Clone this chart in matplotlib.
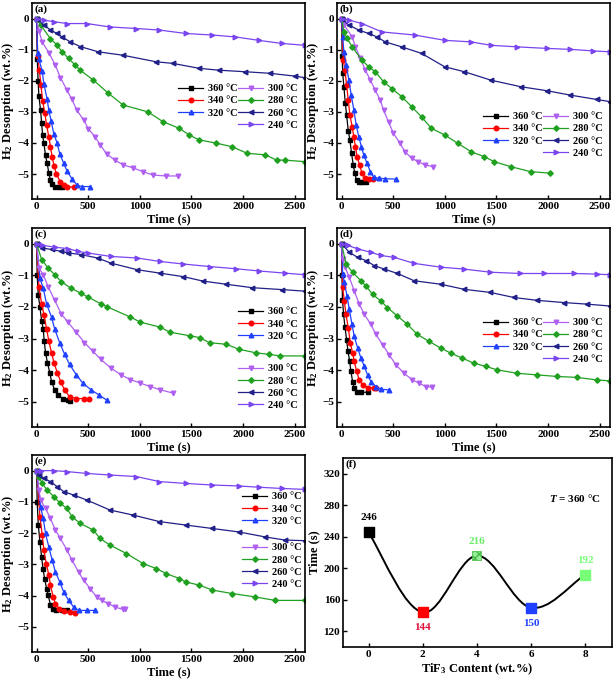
import matplotlib
matplotlib.use("Agg")
import matplotlib.pyplot as plt
from matplotlib.path import Path
from matplotlib.patches import PathPatch

plt.rcParams['font.family'] = ['Liberation Serif', 'DejaVu Serif']
plt.rcParams['font.weight'] = 'bold'
plt.rcParams['mathtext.fontset'] = 'custom'
plt.rcParams['mathtext.rm'] = 'Liberation Serif:bold'
plt.rcParams['mathtext.bf'] = 'Liberation Serif:bold'
plt.rcParams['mathtext.it'] = 'Liberation Serif:bold:italic'

# temperatures, colours and markers of the series
temps = ['360 °C', '340 °C', '320 °C', '300 °C', '280 °C', '260 °C', '240 °C']
colors = ['#000000', '#ff0000', '#2040ff', '#b060f0', '#20a020', '#202088', '#7a45f0']
markers = ['s', 'o', '^', 'v', 'D', '<', '>']

# ---- panel (a) ----
a360_t = [0, 6, 14, 22, 38, 48, 58, 70, 86, 102, 118, 134, 150, 180, 215, 250]
a360_v = [0, -1.3, -2.0, -2.5, -2.95, -3.35, -3.75, -4.0, -4.4, -4.65, -4.97, -5.2, -5.33, -5.4, -5.42, -5.42]
a340_t = [0, 10, 26, 42, 58, 80, 96, 118, 134, 150, 170, 192, 230, 262, 294, 358]
a340_v = [0, -1.2, -1.65, -2.15, -2.65, -3.05, -3.42, -3.8, -4.12, -4.45, -4.75, -5.0, -5.25, -5.35, -5.4, -5.42]
a320_t = [0, 10, 22, 54, 70, 102, 118, 141, 166, 198, 224, 262, 294, 342, 390, 438, 518]
a320_v = [0, -1.1, -1.3, -1.7, -2.1, -2.6, -2.95, -3.3, -3.7, -4.0, -4.35, -4.65, -4.9, -5.15, -5.35, -5.4, -5.4]
a300_t = [0, 22, 54, 118, 182, 230, 294, 342, 390, 454, 502, 566, 614, 678, 758, 838, 934, 1030, 1126, 1254, 1366]
a300_v = [0, -0.4, -0.75, -1.1, -1.5, -1.9, -2.3, -2.6, -2.95, -3.25, -3.55, -3.8, -4.05, -4.35, -4.55, -4.7, -4.8, -4.92, -5.03, -5.06, -5.06]
a280_t = [0, 38, 134, 198, 246, 310, 374, 422, 550, 694, 838, 1078, 1222, 1382, 1478, 1574, 1734, 1894, 2038, 2214, 2326, 2406, 2600]
a280_v = [0, -0.2, -0.65, -0.85, -1.07, -1.28, -1.5, -1.66, -1.98, -2.4, -2.78, -3.0, -3.31, -3.53, -3.74, -3.9, -4.0, -4.12, -4.33, -4.38, -4.55, -4.55, -4.6]
a260_t = [0, 70, 134, 198, 246, 326, 422, 598, 838, 1158, 1318, 1574, 1766, 2022, 2262, 2502, 2600]
a260_v = [0, -0.2, -0.37, -0.48, -0.59, -0.75, -0.9, -1.07, -1.18, -1.39, -1.44, -1.6, -1.66, -1.71, -1.76, -1.85, -1.9]
a240_t = [0, 70, 166, 294, 486, 710, 966, 1190, 1446, 1702, 1926, 2150, 2374, 2600]
a240_v = [0, -0.05, -0.1, -0.16, -0.16, -0.27, -0.32, -0.37, -0.48, -0.53, -0.59, -0.7, -0.8, -0.86]

# ---- panel (b) ----
b360_t = [0, 5, 10, 22, 35, 48, 64, 80, 96, 112, 128, 144, 170, 200, 240]
b360_v = [0, -1.2, -1.75, -2.2, -2.7, -3.1, -3.6, -3.9, -4.33, -4.7, -4.97, -5.2, -5.25, -5.25, -5.25]
b340_t = [0, 16, 32, 48, 64, 80, 102, 118, 134, 150, 173, 198, 230, 262, 300]
b340_v = [0, -1.34, -1.66, -2.14, -2.62, -3.1, -3.48, -3.8, -4.12, -4.44, -4.7, -4.97, -5.13, -5.17, -5.17]
b320_t = [0, 10, 22, 45, 70, 93, 118, 141, 166, 192, 214, 246, 278, 310, 358, 422, 530]
b320_v = [0, -0.6, -1.07, -1.5, -1.98, -2.46, -2.94, -3.42, -3.8, -4.12, -4.39, -4.65, -4.92, -5.1, -5.13, -5.15, -5.16]
b300_t = [0, 22, 102, 134, 182, 230, 278, 326, 374, 406, 454, 502, 566, 614, 678, 742, 806, 886]
b300_v = [0, -0.2, -0.59, -0.91, -1.28, -1.66, -1.98, -2.3, -2.62, -2.94, -3.32, -3.69, -4.01, -4.28, -4.49, -4.6, -4.7, -4.76]
b280_t = [0, 22, 54, 102, 198, 262, 326, 406, 486, 582, 678, 774, 870, 998, 1126, 1254, 1382, 1478, 1638, 1830, 2022]
b280_v = [0, -0.43, -0.64, -0.91, -1.34, -1.55, -1.71, -2.03, -2.25, -2.51, -2.83, -3.16, -3.53, -3.74, -4.01, -4.28, -4.44, -4.6, -4.76, -4.92, -4.97]
b260_t = [0, 70, 166, 262, 342, 422, 582, 774, 998, 1190, 1446, 1734, 1990, 2214, 2470, 2600]
b260_v = [0, -0.21, -0.37, -0.48, -0.59, -0.75, -0.91, -1.12, -1.55, -1.71, -1.98, -2.19, -2.32, -2.46, -2.6, -2.67]
b240_t = [0, 70, 198, 390, 710, 998, 1254, 1446, 1702, 1990, 2214, 2438, 2600]
b240_v = [0, -0.05, -0.16, -0.43, -0.53, -0.7, -0.75, -0.86, -0.91, -0.96, -0.99, -1.04, -1.07]

# ---- panel (c) ----
c360_t = [0, 5, 16, 32, 48, 64, 73, 86, 105, 128, 144, 175, 207, 255, 303, 319]
c360_v = [0, -1.0, -1.63, -2.0, -2.43, -2.7, -3.07, -3.45, -3.77, -4.09, -4.36, -4.63, -4.79, -4.9, -4.95, -4.97]
c340_t = [0, 22, 48, 73, 96, 118, 144, 169, 201, 233, 271, 319, 383, 463, 510]
c340_v = [0, -1.36, -1.9, -2.27, -2.7, -3.07, -3.45, -3.77, -4.09, -4.36, -4.63, -4.84, -4.9, -4.9, -4.9]
c320_t = [0, 32, 64, 96, 144, 175, 223, 271, 319, 383, 447, 526, 606, 680]
c320_v = [0, -1.09, -1.41, -1.9, -2.32, -2.7, -3.13, -3.5, -3.82, -4.14, -4.41, -4.62, -4.79, -4.95]
c300_t = [0, 22, 64, 112, 175, 239, 303, 383, 463, 542, 622, 718, 813, 909, 1005, 1101, 1196, 1324]
c300_v = [0, -0.77, -0.98, -1.36, -1.79, -2.22, -2.48, -2.8, -3.13, -3.39, -3.66, -3.93, -4.14, -4.3, -4.41, -4.52, -4.62, -4.73]
c280_t = [0, 48, 112, 175, 239, 335, 431, 494, 622, 686, 909, 1005, 1196, 1292, 1483, 1579, 1675, 1834, 1962, 2121, 2249, 2361, 2600]
c280_v = [0, -0.5, -0.77, -0.98, -1.2, -1.41, -1.57, -1.68, -1.9, -2.0, -2.32, -2.48, -2.64, -2.8, -2.91, -2.97, -3.13, -3.18, -3.34, -3.45, -3.5, -3.55, -3.55]
c260_t = [0, 48, 144, 239, 303, 431, 590, 718, 973, 1196, 1420, 1611, 1834, 2090, 2377, 2600]
c260_v = [0, -0.13, -0.18, -0.24, -0.29, -0.34, -0.45, -0.61, -0.82, -0.93, -1.04, -1.18, -1.28, -1.39, -1.45, -1.5]
c240_t = [0, 48, 175, 303, 399, 494, 718, 973, 1196, 1420, 1675, 1930, 2153, 2409, 2600]
c240_v = [0, -0.04, -0.11, -0.15, -0.24, -0.29, -0.4, -0.45, -0.56, -0.64, -0.72, -0.79, -0.86, -0.93, -0.98]

# ---- panel (d) ----
d360_t = [0, 3, 8, 19, 32, 48, 61, 77, 90, 106, 122, 148, 187, 251]
d360_v = [0, -1.0, -1.78, -2.23, -2.64, -3.03, -3.4, -3.7, -4.04, -4.36, -4.57, -4.68, -4.7, -4.7]
d340_t = [0, 10, 26, 42, 64, 84, 106, 122, 145, 171, 203, 251, 316, 332]
d340_v = [0, -1.38, -1.81, -2.23, -2.66, -3.14, -3.46, -3.72, -4.04, -4.31, -4.47, -4.55, -4.57, -4.57]
d320_t = [0, 10, 26, 52, 74, 100, 122, 155, 187, 219, 251, 283, 332, 380, 460]
d320_v = [0, -0.96, -1.22, -1.65, -2.07, -2.55, -2.93, -3.3, -3.62, -3.88, -4.15, -4.36, -4.52, -4.6, -4.63]
d300_t = [0, 10, 32, 74, 122, 171, 219, 283, 332, 396, 460, 525, 605, 686, 750, 815, 879]
d300_v = [0, -0.48, -0.74, -1.06, -1.49, -1.91, -2.23, -2.55, -2.87, -3.19, -3.51, -3.83, -4.1, -4.31, -4.41, -4.52, -4.54]
d280_t = [0, 42, 106, 187, 235, 299, 380, 444, 541, 637, 734, 847, 960, 1056, 1169, 1281, 1394, 1507, 1700, 1893, 2086, 2280, 2473, 2600]
d280_v = [0, -0.64, -0.9, -1.17, -1.33, -1.6, -1.81, -2.02, -2.29, -2.55, -2.87, -3.09, -3.3, -3.46, -3.62, -3.78, -3.88, -3.99, -4.1, -4.15, -4.2, -4.23, -4.31, -4.34]
d260_t = [0, 74, 155, 235, 316, 412, 541, 702, 960, 1185, 1442, 1668, 1893, 2151, 2377, 2600]
d260_v = [0, -0.27, -0.43, -0.53, -0.69, -0.8, -0.94, -1.17, -1.28, -1.44, -1.54, -1.7, -1.79, -1.86, -1.91, -1.97]
d240_t = [0, 58, 155, 283, 380, 509, 702, 960, 1185, 1442, 1732, 1958, 2248, 2473, 2600]
d240_v = [0, -0.05, -0.16, -0.27, -0.37, -0.43, -0.62, -0.74, -0.8, -0.9, -0.94, -0.94, -0.94, -0.96, -0.98]

# ---- panel (e) ----
e360_t = [0, 5, 16, 32, 48, 61, 77, 96, 112, 134, 157, 192, 246, 294]
e360_v = [0, -1.0, -1.74, -2.28, -2.76, -3.13, -3.45, -3.77, -3.98, -4.3, -4.41, -4.47, -4.47, -4.47]
e340_t = [0, 32, 54, 70, 93, 118, 134, 160, 182, 214, 262, 326, 374]
e340_v = [0, -1.47, -2.06, -2.54, -2.97, -3.34, -3.66, -4.04, -4.25, -4.41, -4.49, -4.52, -4.55]
e320_t = [0, 38, 64, 86, 118, 150, 182, 224, 262, 310, 358, 406, 486, 566]
e320_v = [0, -1.15, -1.53, -2.01, -2.44, -2.86, -3.24, -3.56, -3.88, -4.15, -4.36, -4.47, -4.47, -4.47]
e300_t = [0, 22, 38, 86, 134, 182, 230, 294, 342, 406, 454, 518, 582, 630, 694, 758, 838, 854]
e300_v = [0, -0.62, -0.94, -1.21, -1.53, -1.9, -2.17, -2.54, -2.86, -3.24, -3.5, -3.77, -4.04, -4.15, -4.25, -4.36, -4.44, -4.44]
e280_t = [0, 22, 54, 102, 166, 230, 294, 342, 422, 550, 614, 710, 870, 1030, 1158, 1254, 1382, 1446, 1574, 1702, 1894, 2118, 2310, 2600]
e280_v = [0, -0.19, -0.41, -0.62, -0.83, -1.05, -1.21, -1.47, -1.69, -1.9, -2.17, -2.38, -2.65, -2.97, -3.13, -3.29, -3.45, -3.56, -3.66, -3.82, -3.93, -4.04, -4.15, -4.15]
e260_t = [0, 22, 70, 134, 198, 262, 358, 486, 710, 934, 1190, 1446, 1702, 1958, 2214, 2406, 2600]
e260_v = [0, -0.14, -0.25, -0.35, -0.51, -0.67, -0.78, -0.94, -1.26, -1.42, -1.63, -1.74, -1.85, -1.96, -2.12, -2.22, -2.24]
e240_t = [0, 38, 166, 294, 486, 710, 966, 1190, 1446, 1702, 1958, 2150, 2374, 2600]
e240_v = [0, 0.0, 0.0, -0.03, -0.09, -0.14, -0.19, -0.35, -0.41, -0.46, -0.49, -0.53, -0.57, -0.6]

# ---- panel (f) ----
tif3 = [0, 2, 4, 6, 8]
t_full = [246, 144, 216, 150, 192]
f_colors = ['#000000', '#ff0000', '#66dd66', '#2040ff', '#77ff77']
f_label_colors = ['#000000', '#e0103a', '#66ee66', '#2040ff', '#77ff77']
f_label_above = [True, False, True, False, True]

panels = [
    ('(a)', [(a360_t, a360_v), (a340_t, a340_v), (a320_t, a320_v), (a300_t, a300_v),
             (a280_t, a280_v), (a260_t, a260_v), (a240_t, a240_v)]),
    ('(b)', [(b360_t, b360_v), (b340_t, b340_v), (b320_t, b320_v), (b300_t, b300_v),
             (b280_t, b280_v), (b260_t, b260_v), (b240_t, b240_v)]),
    ('(c)', [(c360_t, c360_v), (c340_t, c340_v), (c320_t, c320_v), (c300_t, c300_v),
             (c280_t, c280_v), (c260_t, c260_v), (c240_t, c240_v)]),
    ('(d)', [(d360_t, d360_v), (d340_t, d340_v), (d320_t, d320_v), (d300_t, d300_v),
             (d280_t, d280_v), (d260_t, d260_v), (d240_t, d240_v)]),
    ('(e)', [(e360_t, e360_v), (e340_t, e340_v), (e320_t, e320_v), (e300_t, e300_v),
             (e280_t, e280_v), (e260_t, e260_v), (e240_t, e240_v)]),
]

W, H = 615, 683
def px_axes(fig, left, right, top, bottom):
    return fig.add_axes([left / W, 1 - bottom / H, (right - left) / W, (bottom - top) / H])

fig = plt.figure(figsize=(6.15, 6.83), dpi=100)

boxes = [(32, 305, 3, 199), (337, 610, 3, 199), (32, 305, 228, 427),
         (337, 610, 228, 427), (32, 305, 455, 652)]
# legend anchors: (x1, y1, x2, y2) in axes fraction
leg_pos = [(0.535, 0.587, 0.755, 0.587), (0.535, 0.444, 0.755, 0.444),
           (0.755, 0.603, 0.755, 0.316), (0.535, 0.548, 0.755, 0.548),
           (0.77, 0.812, 0.77, 0.553)]

for (name, series), box, lp in zip(panels, boxes, leg_pos):
    ax = px_axes(fig, *box)
    handles = []
    for (t, v), c, m, lab in zip(series, colors, markers, temps):
        ms = 2.8 if m == 'D' else 3.3
        h, = ax.plot(t, v, color=c, marker=m, markersize=ms, linewidth=0.9, label=lab)
        handles.append(h)
    ax.set_xlim(-45, 2600)
    ax.set_ylim(-5.8, 0.5)
    ax.set_xticks([0, 500, 1000, 1500, 2000, 2500])
    ax.set_yticks([-5, -4, -3, -2, -1, 0])
    ax.tick_params(direction='in', length=3, width=1, labelsize=8, pad=2)
    for s in ax.spines.values():
        s.set_linewidth(1.2)
    ax.set_xlabel('Time (s)', fontsize=9, fontweight='bold', labelpad=2)
    ax.set_ylabel('H$_2$ Desorption (wt.%)', fontsize=9, fontweight='bold', labelpad=1)
    ax.text(0.008, 0.995, name, transform=ax.transAxes, ha='left', va='top',
            fontsize=8, fontweight='bold')
    kw = dict(frameon=False, fontsize=7.5, handlelength=2.4, handletextpad=0.5,
              labelspacing=0.28, borderpad=0, borderaxespad=0, loc='upper left')
    l1 = ax.legend(handles=handles[:3], bbox_to_anchor=(lp[0], lp[1]), **kw)
    ax.add_artist(l1)
    ax.legend(handles=handles[3:], bbox_to_anchor=(lp[2], lp[3]), **kw)

# ---- panel (f) ----
axf = px_axes(fig, 343, 612, 458, 647)
# smooth connecting curve (cubic Hermite segments drawn as Bezier)
tang = []
for i in range(len(tif3)):
    if i == 0:
        tang.append((t_full[1] - t_full[0]) / (tif3[1] - tif3[0]) * 1.2)
    elif i == len(tif3) - 1:
        tang.append((t_full[-1] - t_full[-2]) / (tif3[-1] - tif3[-2]) * 1.2)
    else:
        tang.append((t_full[i + 1] - t_full[i - 1]) / (tif3[i + 1] - tif3[i - 1]))
verts = [(tif3[0], t_full[0])]
codes = [Path.MOVETO]
for i in range(len(tif3) - 1):
    dx = tif3[i + 1] - tif3[i]
    verts += [(tif3[i] + dx / 3, t_full[i] + tang[i] * dx / 3),
              (tif3[i + 1] - dx / 3, t_full[i + 1] - tang[i + 1] * dx / 3),
              (tif3[i + 1], t_full[i + 1])]
    codes += [Path.CURVE4] * 3
axf.add_patch(PathPatch(Path(verts, codes), fill=False, edgecolor='black', linewidth=1.4))
for i, (x, y) in enumerate(zip(tif3, t_full)):
    if i == 2:
        axf.scatter([x], [y], s=42, marker='s', facecolor='#99ee99', edgecolor='#44bb44',
                    hatch='xxxx', linewidth=0.5, zorder=3)
    else:
        axf.scatter([x], [y], s=42, marker='s', color=f_colors[i], zorder=3)
    off = 7 if f_label_above[i] else -8
    axf.annotate(str(y), (x, y), xytext=(0, off), textcoords='offset points',
                 ha='center', va='bottom' if f_label_above[i] else 'top',
                 fontsize=8, fontweight='bold', color=f_label_colors[i])
axf.set_xlim(-0.95, 9.0)
axf.set_ylim(100, 340)
axf.set_xticks([0, 2, 4, 6, 8])
axf.set_yticks([120, 160, 200, 240, 280, 320])
axf.tick_params(direction='in', length=3, width=1, labelsize=8, pad=2)
for s in axf.spines.values():
    s.set_linewidth(1.2)
axf.set_xlabel('TiF$_3$ Content (wt.%)', fontsize=9, fontweight='bold', labelpad=2)
axf.set_ylabel('Time (s)', fontsize=9, fontweight='bold', labelpad=2)
axf.text(0.008, 0.995, '(f)', transform=axf.transAxes, ha='left', va='top',
         fontsize=8, fontweight='bold')
axf.text(0.96, 0.79, '$T$ = 360 °C', transform=axf.transAxes, ha='right', va='center',
         fontsize=8, fontweight='bold')

fig.savefig('out.png', dpi=100)
